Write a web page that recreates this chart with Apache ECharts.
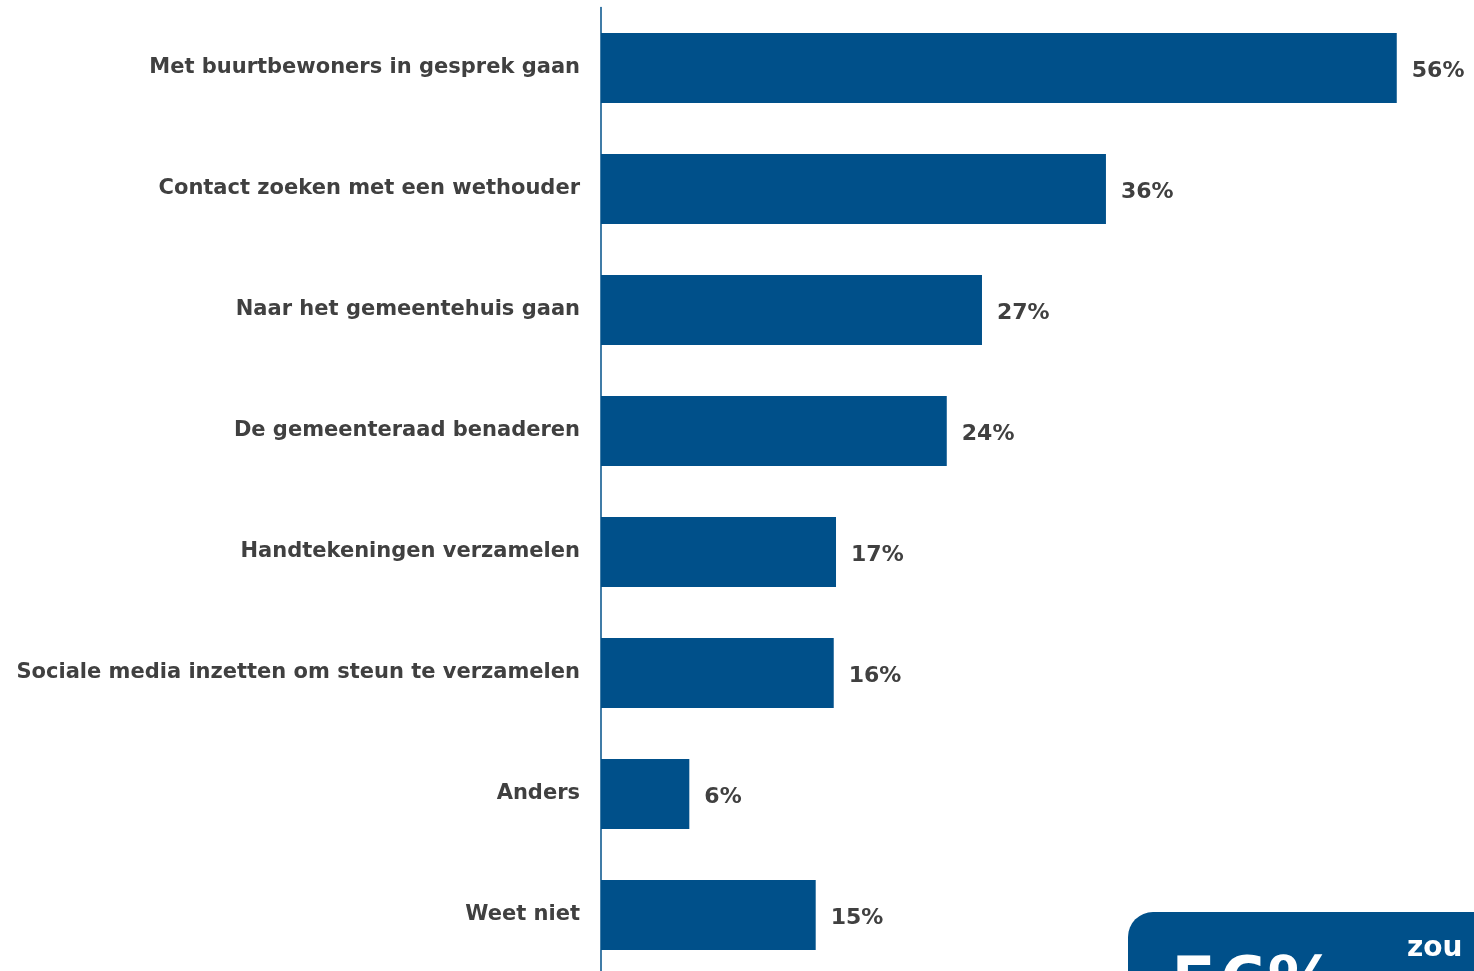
<!DOCTYPE html>
<html>
<head>
<meta charset="utf-8">
<script src="https://cdn.jsdelivr.net/npm/echarts@6/dist/echarts.min.js"></script>
<style>
html,body{margin:0;padding:0;background:#fff;overflow:hidden;width:1474px;height:971px;}
#chart{width:1474px;height:976px;}
</style>
</head>
<body>
<div id="chart"></div>
<script>
const categories = [
  "Met buurtbewoners in gesprek gaan",
  "Contact zoeken met een wethouder",
  "Naar het gemeentehuis gaan",
  "De gemeenteraad benaderen",
  "Handtekeningen verzamelen",
  "Sociale media inzetten om steun te verzamelen",
  "Anders",
  "Weet niet"
];
const values = [56.04, 35.56, 26.83, 24.35, 16.55, 16.39, 6.22, 15.12];
const calloutValue = "56%";
const calloutText = "zou";

const BLUE = "#00508a";
const TEXT = "#404040";
const FONT = "DejaVu Sans";

const chart = echarts.init(document.getElementById('chart'), null, {renderer: 'canvas'});
chart.setOption({
  backgroundColor: '#ffffff',
  animation: false,
  grid: {left: 601, right: 21, top: 7.5, bottom: 0.5, containLabel: false},
  xAxis: {
    type: 'value', min: 0, max: 60, show: false,
    splitLine: {show: false}
  },
  yAxis: {
    type: 'category',
    data: categories,
    inverse: true,
    axisLine: {show: true, lineStyle: {color: BLUE, width: 1.5}},
    axisTick: {show: false},
    axisLabel: {
      margin: 21,
      color: TEXT,
      fontFamily: FONT,
      fontWeight: 'bold',
      fontSize: 21
    }
  },
  series: [{
    type: 'bar',
    data: values,
    barWidth: 70,
    itemStyle: {color: BLUE},
    label: {
      show: true,
      position: 'right',
      distance: 15,
      offset: [0, 3],
      color: TEXT,
      fontFamily: FONT,
      fontWeight: 'bold',
      fontSize: 22,
      formatter: p => Math.round(p.value) + '%'
    }
  }],
  graphic: [
    {
      type: 'rect',
      left: 1128, top: 912,
      shape: {width: 400, height: 120, r: 25},
      style: {fill: BLUE}
    },
    {
      type: 'text',
      left: 1170, top: 953,
      style: {text: calloutValue, fill: '#fff', font: 'bold 70px "DejaVu Sans"'}
    },
    {
      type: 'text',
      left: 1407, top: 935,
      style: {text: calloutText, fill: '#fff', font: 'bold 28px "DejaVu Sans"'}
    }
  ]
});
</script>
</body>
</html>
